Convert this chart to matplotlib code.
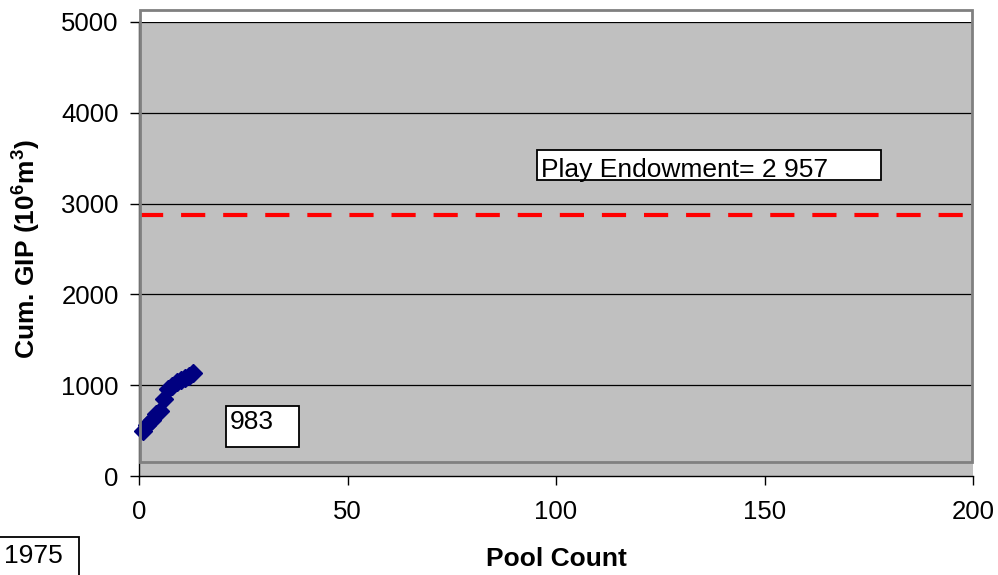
import matplotlib
matplotlib.use("Agg")
import matplotlib.pyplot as plt
from matplotlib.patches import Rectangle

plt.rcParams['font.family'] = ['Liberation Sans', 'DejaVu Sans']
plt.rcParams['mathtext.fontset'] = 'custom'
plt.rcParams['mathtext.rm'] = 'Liberation Sans'
plt.rcParams['mathtext.bf'] = 'Liberation Sans:bold'

# Data
pool_count = [1, 2, 3, 4, 5, 6, 7, 8, 9, 10, 11, 12, 13]
cum_gip = [500, 560, 620, 680, 720, 850, 960, 990, 1030, 1060, 1080, 1100, 1130]
endowment_line = 2870
endowment_label = "Play Endowment= 2 957"
count_label = "983"
year_label = "1975"
x_ticks = [0, 50, 100, 150, 200]
y_ticks = [0, 1000, 2000, 3000, 4000, 5000]

W, H = 998, 575
fig = plt.figure(figsize=(W / 100, H / 100), dpi=100)

def fx(px):
    return px / W

def fy(py):
    return 1 - py / H

ax = fig.add_axes([fx(139), fy(476), fx(973) - fx(139), fy(22) - fy(476)])
ax.set_facecolor('#C0C0C0')
ax.set_xlim(0, 200)
ax.set_ylim(0, 5000)
ax.set_xticks(x_ticks)
ax.set_yticks(y_ticks)
ax.tick_params(labelsize=18.5, direction='out', length=6.5, width=1, color='black')
ax.tick_params(axis='x', pad=11)
ax.tick_params(axis='y', pad=8)
for y in y_ticks[1:]:
    ax.axhline(y, color='black', lw=0.9, zorder=1)
for s in ['top', 'right']:
    ax.spines[s].set_visible(False)
for s in ['left', 'bottom']:
    ax.spines[s].set_color('black')
    ax.spines[s].set_linewidth(1)

ax.plot([0, 200], [endowment_line] * 2, color='#FF0000', lw=3,
        dashes=(5.8, 4.3), zorder=2, solid_capstyle='butt', dash_capstyle='butt')
ax.plot(pool_count, cum_gip, color='#000080', lw=3, marker='D', markersize=9,
        markerfacecolor='#000080', markeredgecolor='#000080', zorder=3, clip_on=False)

ax.set_xlabel('Pool Count', fontsize=19, fontweight='bold', labelpad=16)
ax.set_ylabel(r'Cum. GIP (10$^{\mathbf{6}}$m$^{\mathbf{3}}$)', fontsize=19,
              fontweight='bold', labelpad=14)

# Plot-area frame (inner bordered box)
fig.patches.append(Rectangle((fx(140), fy(462)), fx(972) - fx(140), fy(10) - fy(462),
                             transform=fig.transFigure, fill=False,
                             edgecolor='#808080', lw=2, zorder=5))

def box(l, t, r, b, text, tx, ty):
    fig.patches.append(Rectangle((fx(l), fy(b)), fx(r) - fx(l), fy(t) - fy(b),
                                 transform=fig.transFigure, facecolor='white',
                                 edgecolor='black', lw=1.3, zorder=6))
    fig.text(fx(tx), fy(ty), text, fontsize=19, ha='left', va='baseline', zorder=7)

box(537, 150, 881, 180, endowment_label, 541, 177)
box(226, 406, 299, 447, count_label, 230, 429)
box(-2, 537, 79, 577, year_label, 4, 563)

fig.savefig('out.png', dpi=100)
